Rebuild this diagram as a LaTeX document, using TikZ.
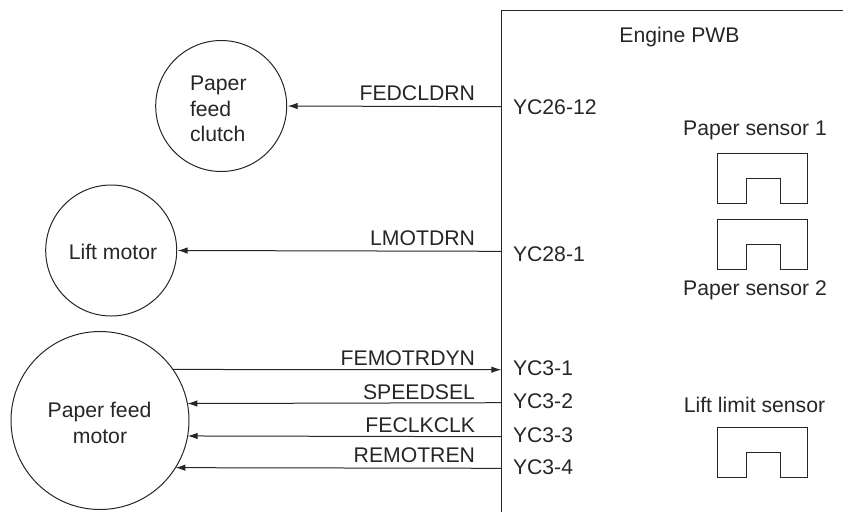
\documentclass[tikz,border=0pt]{standalone}
\usepackage{fontspec}
\setmainfont{Liberation Sans}
\usetikzlibrary{arrows.meta}
\tikzset{
  line/.style={draw=black!85,line width=1pt},
  device/.style={circle,line,inner sep=0pt,outer sep=0pt,font=\fontsize{21.2}{25.6}\selectfont,text=black!85},
  txt/.style={inner sep=0pt,outer sep=0pt,font=\fontsize{21.2}{25.6}\selectfont,text=black!85},
  sig/.style={txt,anchor=base east},
  pin/.style={txt,anchor=base west},
  conn/.style={line,-{Latex[length=10pt,width=6.5pt]}},
}
\newcommand{\sensorshape}[2]{\draw[line] (#1,#2+50) -- (#1,#2) -- (#1+90,#2) -- (#1+90,#2+50) -- (#1+63,#2+50) -- (#1+63,#2+24.5) -- (#1+29.5,#2+24.5) -- (#1+29.5,#2+50) -- cycle;}
\begin{document}
\begin{tikzpicture}[x=1pt,y=-1pt]
\useasboundingbox (0,0) rectangle (843,512);
\draw[line] (843,10.5) -- (501.3,10.5) -- (501.3,512);
\coordinate (p1) at (501.3,106.7);
\coordinate (p2) at (501.3,251.3);
\coordinate (p3) at (501.3,369.7);
\coordinate (p4) at (501.3,402.7);
\coordinate (p5) at (501.3,436.7);
\coordinate (p6) at (501.3,468.3);
\node[device,minimum size=131pt] (clutch) at (221.2,106) {};
\node[device,minimum size=131pt] (lift) at (111.2,250.5) {};
\node[device,minimum size=178pt] (feed) at (100,420.5) {};
\node[txt,anchor=base west] (c1) at (190,90) {Paper};
\node[txt,anchor=base west] (c2) at (190,116) {feed};
\node[txt,anchor=base west] (c3) at (190,141) {clutch};
\node[txt,anchor=base] (l1) at (113,259) {Lift motor};
\node[txt,anchor=base] (f1) at (99.5,417.7) {Paper feed};
\node[txt,anchor=base] (f2) at (100,443) {motor};
\draw[conn,shorten >=1pt] (p1) -- (clutch.0);
\draw[conn,shorten >=1pt] (p2) -- (lift.0);
\draw[conn] (feed.35) -- (p3);
\draw[conn] (p4) -- (feed.11.5);
\draw[conn] (p5) -- (feed.-10.5);
\draw[conn] (p6) -- (feed.-32.6);
\node[sig] (s1) at (475,100) {FEDCLDRN};
\node[sig] (s2) at (475,245) {LMOTDRN};
\node[sig] (s3) at (475,365.7) {FEMOTRDYN};
\node[sig] (s4) at (475,399) {SPEEDSEL};
\node[sig] (s5) at (475,432.7) {FECLKCLK};
\node[sig] (s6) at (475,462.7) {REMOTREN};
\node[pin] (y1) at (513,114) {YC26-12};
\node[pin] (y2) at (513,261.7) {YC28-1};
\node[pin] (y3) at (513,375) {YC3-1};
\node[pin] (y4) at (513,408) {YC3-2};
\node[pin] (y5) at (513,442) {YC3-3};
\node[pin] (y6) at (513,474) {YC3-4};
\node[txt,anchor=base] (eng) at (679.5,42) {Engine PWB};
\node[txt,anchor=base] (ps1) at (755,135) {Paper sensor 1};
\node[txt,anchor=base] (ps2) at (755,295) {Paper sensor 2};
\node[txt,anchor=base] (ll) at (754.5,412.3) {Lift limit sensor};
\sensorshape{717}{153.5}
\sensorshape{717}{219.5}
\sensorshape{717}{427.7}
\end{tikzpicture}
\end{document}
